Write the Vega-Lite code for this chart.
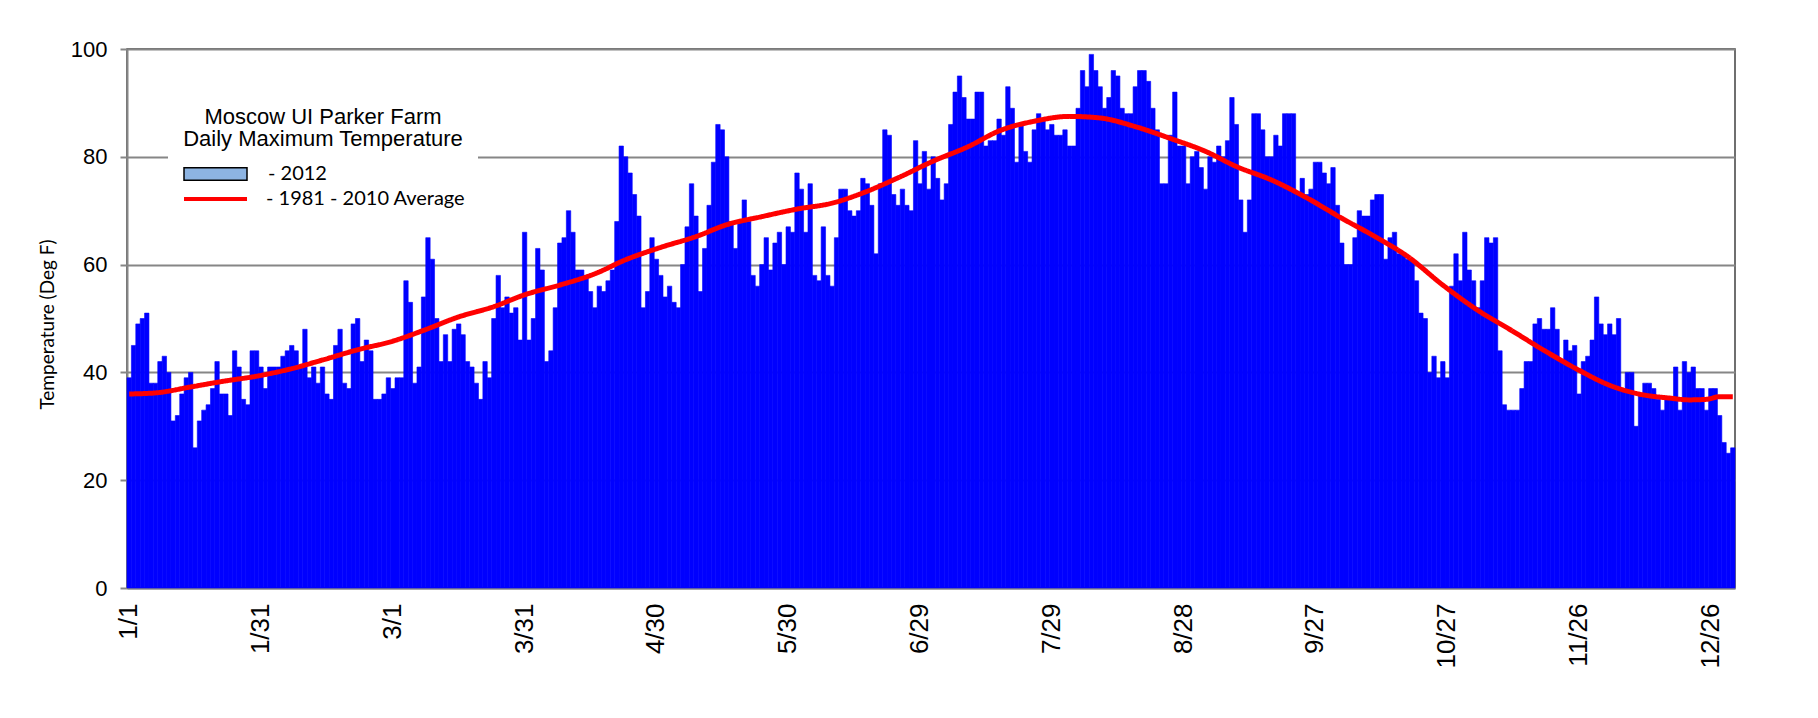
{
  "$schema": "https://vega.github.io/schema/vega-lite/v6.json",
  "width": 1608,
  "height": 539,
  "autosize": "none",
  "padding": {"left": 127, "top": 49, "right": 83, "bottom": 130},
  "background": "white",
  "config": {
    "view": {"stroke": "#404040", "strokeWidth": 1.5},
    "font": "Liberation Sans"
  },
  "datasets": {
    "daily": [
      {"d":"1/1","t":39},{"d":"1/2","t":45},{"d":"1/3","t":49},{"d":"1/4","t":50},{"d":"1/5","t":51},{"d":"1/6","t":38},{"d":"1/7","t":38},{"d":"1/8","t":42},{"d":"1/9","t":43},{"d":"1/10","t":40},
      {"d":"1/11","t":31},{"d":"1/12","t":32},{"d":"1/13","t":36},{"d":"1/14","t":39},{"d":"1/15","t":40},{"d":"1/16","t":26},{"d":"1/17","t":31},{"d":"1/18","t":33},{"d":"1/19","t":34},{"d":"1/20","t":37},
      {"d":"1/21","t":42},{"d":"1/22","t":36},{"d":"1/23","t":36},{"d":"1/24","t":32},{"d":"1/25","t":44},{"d":"1/26","t":41},{"d":"1/27","t":35},{"d":"1/28","t":34},{"d":"1/29","t":44},{"d":"1/30","t":44},
      {"d":"1/31","t":41},
      {"d":"2/1","t":37},{"d":"2/2","t":41},{"d":"2/3","t":41},{"d":"2/4","t":41},{"d":"2/5","t":43},{"d":"2/6","t":44},{"d":"2/7","t":45},{"d":"2/8","t":44},{"d":"2/9","t":41},{"d":"2/10","t":48},
      {"d":"2/11","t":39},{"d":"2/12","t":41},{"d":"2/13","t":38},{"d":"2/14","t":41},{"d":"2/15","t":36},{"d":"2/16","t":35},{"d":"2/17","t":45},{"d":"2/18","t":48},{"d":"2/19","t":38},{"d":"2/20","t":37},
      {"d":"2/21","t":49},{"d":"2/22","t":50},{"d":"2/23","t":42},{"d":"2/24","t":46},{"d":"2/25","t":44},{"d":"2/26","t":35},{"d":"2/27","t":35},{"d":"2/28","t":36},{"d":"2/29","t":39},
      {"d":"3/1","t":37},{"d":"3/2","t":39},{"d":"3/3","t":39},{"d":"3/4","t":57},{"d":"3/5","t":53},{"d":"3/6","t":38},{"d":"3/7","t":41},{"d":"3/8","t":54},{"d":"3/9","t":65},{"d":"3/10","t":61},
      {"d":"3/11","t":50},{"d":"3/12","t":42},{"d":"3/13","t":47},{"d":"3/14","t":42},{"d":"3/15","t":48},{"d":"3/16","t":49},{"d":"3/17","t":47},{"d":"3/18","t":42},{"d":"3/19","t":41},{"d":"3/20","t":38},
      {"d":"3/21","t":35},{"d":"3/22","t":42},{"d":"3/23","t":39},{"d":"3/24","t":50},{"d":"3/25","t":58},{"d":"3/26","t":52},{"d":"3/27","t":54},{"d":"3/28","t":51},{"d":"3/29","t":52},{"d":"3/30","t":46},
      {"d":"3/31","t":66},
      {"d":"4/1","t":46},{"d":"4/2","t":50},{"d":"4/3","t":63},{"d":"4/4","t":59},{"d":"4/5","t":42},{"d":"4/6","t":44},{"d":"4/7","t":52},{"d":"4/8","t":64},{"d":"4/9","t":65},{"d":"4/10","t":70},
      {"d":"4/11","t":66},{"d":"4/12","t":59},{"d":"4/13","t":59},{"d":"4/14","t":58},{"d":"4/15","t":55},{"d":"4/16","t":52},{"d":"4/17","t":56},{"d":"4/18","t":55},{"d":"4/19","t":57},{"d":"4/20","t":59},
      {"d":"4/21","t":68},{"d":"4/22","t":82},{"d":"4/23","t":80},{"d":"4/24","t":77},{"d":"4/25","t":73},{"d":"4/26","t":69},{"d":"4/27","t":52},{"d":"4/28","t":55},{"d":"4/29","t":65},{"d":"4/30","t":61},
      {"d":"5/1","t":58},{"d":"5/2","t":54},{"d":"5/3","t":56},{"d":"5/4","t":53},{"d":"5/5","t":52},{"d":"5/6","t":60},{"d":"5/7","t":67},{"d":"5/8","t":75},{"d":"5/9","t":69},{"d":"5/10","t":55},
      {"d":"5/11","t":63},{"d":"5/12","t":71},{"d":"5/13","t":79},{"d":"5/14","t":86},{"d":"5/15","t":85},{"d":"5/16","t":80},{"d":"5/17","t":68},{"d":"5/18","t":63},{"d":"5/19","t":68},{"d":"5/20","t":72},
      {"d":"5/21","t":68},{"d":"5/22","t":58},{"d":"5/23","t":56},{"d":"5/24","t":60},{"d":"5/25","t":65},{"d":"5/26","t":59},{"d":"5/27","t":64},{"d":"5/28","t":66},{"d":"5/29","t":60},{"d":"5/30","t":67},
      {"d":"5/31","t":66},
      {"d":"6/1","t":77},{"d":"6/2","t":74},{"d":"6/3","t":66},{"d":"6/4","t":75},{"d":"6/5","t":58},{"d":"6/6","t":57},{"d":"6/7","t":67},{"d":"6/8","t":58},{"d":"6/9","t":56},{"d":"6/10","t":65},
      {"d":"6/11","t":74},{"d":"6/12","t":74},{"d":"6/13","t":70},{"d":"6/14","t":69},{"d":"6/15","t":70},{"d":"6/16","t":76},{"d":"6/17","t":75},{"d":"6/18","t":71},{"d":"6/19","t":62},{"d":"6/20","t":75},
      {"d":"6/21","t":85},{"d":"6/22","t":84},{"d":"6/23","t":73},{"d":"6/24","t":71},{"d":"6/25","t":74},{"d":"6/26","t":71},{"d":"6/27","t":70},{"d":"6/28","t":83},{"d":"6/29","t":75},{"d":"6/30","t":81},
      {"d":"7/1","t":74},{"d":"7/2","t":80},{"d":"7/3","t":76},{"d":"7/4","t":72},{"d":"7/5","t":75},{"d":"7/6","t":86},{"d":"7/7","t":92},{"d":"7/8","t":95},{"d":"7/9","t":91},{"d":"7/10","t":87},
      {"d":"7/11","t":87},{"d":"7/12","t":92},{"d":"7/13","t":92},{"d":"7/14","t":82},{"d":"7/15","t":83},{"d":"7/16","t":83},{"d":"7/17","t":87},{"d":"7/18","t":84},{"d":"7/19","t":93},{"d":"7/20","t":89},
      {"d":"7/21","t":79},{"d":"7/22","t":86},{"d":"7/23","t":81},{"d":"7/24","t":79},{"d":"7/25","t":85},{"d":"7/26","t":88},{"d":"7/27","t":87},{"d":"7/28","t":85},{"d":"7/29","t":86},{"d":"7/30","t":84},
      {"d":"7/31","t":84},
      {"d":"8/1","t":85},{"d":"8/2","t":82},{"d":"8/3","t":82},{"d":"8/4","t":89},{"d":"8/5","t":96},{"d":"8/6","t":93},{"d":"8/7","t":99},{"d":"8/8","t":96},{"d":"8/9","t":93},{"d":"8/10","t":89},
      {"d":"8/11","t":91},{"d":"8/12","t":96},{"d":"8/13","t":95},{"d":"8/14","t":89},{"d":"8/15","t":88},{"d":"8/16","t":88},{"d":"8/17","t":93},{"d":"8/18","t":96},{"d":"8/19","t":96},{"d":"8/20","t":94},
      {"d":"8/21","t":89},{"d":"8/22","t":85},{"d":"8/23","t":75},{"d":"8/24","t":75},{"d":"8/25","t":84},{"d":"8/26","t":92},{"d":"8/27","t":82},{"d":"8/28","t":82},{"d":"8/29","t":75},{"d":"8/30","t":80},
      {"d":"8/31","t":81},
      {"d":"9/1","t":78},{"d":"9/2","t":74},{"d":"9/3","t":80},{"d":"9/4","t":79},{"d":"9/5","t":82},{"d":"9/6","t":80},{"d":"9/7","t":83},{"d":"9/8","t":91},{"d":"9/9","t":86},{"d":"9/10","t":72},
      {"d":"9/11","t":66},{"d":"9/12","t":72},{"d":"9/13","t":88},{"d":"9/14","t":88},{"d":"9/15","t":85},{"d":"9/16","t":80},{"d":"9/17","t":80},{"d":"9/18","t":84},{"d":"9/19","t":82},{"d":"9/20","t":88},
      {"d":"9/21","t":88},{"d":"9/22","t":88},{"d":"9/23","t":73},{"d":"9/24","t":76},{"d":"9/25","t":73},{"d":"9/26","t":74},{"d":"9/27","t":79},{"d":"9/28","t":79},{"d":"9/29","t":77},{"d":"9/30","t":75},
      {"d":"10/1","t":78},{"d":"10/2","t":71},{"d":"10/3","t":64},{"d":"10/4","t":60},{"d":"10/5","t":60},{"d":"10/6","t":65},{"d":"10/7","t":70},{"d":"10/8","t":69},{"d":"10/9","t":69},{"d":"10/10","t":72},
      {"d":"10/11","t":73},{"d":"10/12","t":73},{"d":"10/13","t":61},{"d":"10/14","t":65},{"d":"10/15","t":66},{"d":"10/16","t":62},{"d":"10/17","t":62},{"d":"10/18","t":61},{"d":"10/19","t":61},{"d":"10/20","t":57},
      {"d":"10/21","t":51},{"d":"10/22","t":50},{"d":"10/23","t":40},{"d":"10/24","t":43},{"d":"10/25","t":39},{"d":"10/26","t":42},{"d":"10/27","t":39},{"d":"10/28","t":56},{"d":"10/29","t":62},{"d":"10/30","t":57},
      {"d":"10/31","t":66},
      {"d":"11/1","t":59},{"d":"11/2","t":57},{"d":"11/3","t":52},{"d":"11/4","t":57},{"d":"11/5","t":65},{"d":"11/6","t":64},{"d":"11/7","t":65},{"d":"11/8","t":44},{"d":"11/9","t":34},{"d":"11/10","t":33},
      {"d":"11/11","t":33},{"d":"11/12","t":33},{"d":"11/13","t":37},{"d":"11/14","t":42},{"d":"11/15","t":42},{"d":"11/16","t":49},{"d":"11/17","t":50},{"d":"11/18","t":48},{"d":"11/19","t":48},{"d":"11/20","t":52},
      {"d":"11/21","t":48},{"d":"11/22","t":42},{"d":"11/23","t":46},{"d":"11/24","t":44},{"d":"11/25","t":45},{"d":"11/26","t":36},{"d":"11/27","t":42},{"d":"11/28","t":43},{"d":"11/29","t":46},{"d":"11/30","t":54},
      {"d":"12/1","t":49},{"d":"12/2","t":47},{"d":"12/3","t":49},{"d":"12/4","t":47},{"d":"12/5","t":50},{"d":"12/6","t":37},{"d":"12/7","t":40},{"d":"12/8","t":40},{"d":"12/9","t":30},{"d":"12/10","t":36},
      {"d":"12/11","t":38},{"d":"12/12","t":38},{"d":"12/13","t":37},{"d":"12/14","t":35},{"d":"12/15","t":33},{"d":"12/16","t":35},{"d":"12/17","t":35},{"d":"12/18","t":41},{"d":"12/19","t":33},{"d":"12/20","t":42},
      {"d":"12/21","t":40},{"d":"12/22","t":41},{"d":"12/23","t":37},{"d":"12/24","t":37},{"d":"12/25","t":33},{"d":"12/26","t":37},{"d":"12/27","t":37},{"d":"12/28","t":32},{"d":"12/29","t":27},{"d":"12/30","t":25},
      {"d":"12/31","t":26}
    ],
    "normal": [
      {"d":"1/1","avg":36.0},{"d":"1/7","avg":36.2},{"d":"1/15","avg":37.3},{"d":"1/22","avg":38.3},{"d":"1/30","avg":39.3},
      {"d":"2/7","avg":40.7},{"d":"2/14","avg":42.3},{"d":"2/22","avg":44.2},{"d":"3/1","avg":45.8},{"d":"3/8","avg":47.8},
      {"d":"3/16","avg":50.3},{"d":"3/24","avg":52.2},{"d":"3/31","avg":54.4},{"d":"4/8","avg":56.2},{"d":"4/16","avg":58.3},
      {"d":"4/23","avg":60.9},{"d":"5/1","avg":63.2},{"d":"5/9","avg":65.2},{"d":"5/16","avg":67.4},{"d":"5/24","avg":68.9},
      {"d":"6/1","avg":70.3},{"d":"6/9","avg":71.4},{"d":"6/16","avg":73.3},{"d":"6/24","avg":76.1},{"d":"7/2","avg":79.2},
      {"d":"7/10","avg":81.9},{"d":"7/17","avg":84.8},{"d":"7/25","avg":86.6},{"d":"8/2","avg":87.5},{"d":"8/9","avg":87.2},
      {"d":"8/17","avg":85.6},{"d":"8/25","avg":83.4},{"d":"9/2","avg":81.0},{"d":"9/9","avg":78.2},{"d":"9/17","avg":75.7},
      {"d":"9/25","avg":72.4},{"d":"10/3","avg":68.6},{"d":"10/11","avg":65.0},{"d":"10/18","avg":61.5},{"d":"10/26","avg":56.2},
      {"d":"11/3","avg":51.5},{"d":"11/11","avg":47.6},{"d":"11/18","avg":44.1},{"d":"11/26","avg":40.4},{"d":"12/3","avg":37.6},
      {"d":"12/9","avg":36.1},{"d":"12/17","avg":35.2},{"d":"12/21","avg":34.9},{"d":"12/25","avg":35.0},{"d":"12/28","avg":35.5},
      {"d":"12/31","avg":35.5}
    ]
  },
  "layer": [
    {
      "data": {"name": "daily"},
      "mark": {"type": "bar", "strokeWidth": 0.6},
      "encoding": {
        "x": {
          "field": "d",
          "type": "ordinal",
          "sort": null,
          "scale": {"paddingInner": 0, "paddingOuter": 0},
          "axis": {
            "labelExpr": "indexof(['1/1','1/31','3/1','3/31','4/30','5/30','6/29','7/29','8/28','9/27','10/27','11/26','12/26'], datum.value) >= 0 ? datum.value : ''",
            "labelAngle": 270,
            "labelAlign": "right",
            "labelBaseline": "middle",
            "labelFontSize": 26,
            "labelColor": "black",
            "labelPadding": 15,
            "labelOverlap": false,
            "labelFlush": false,
            "ticks": false,
            "domainColor": "#868686",
            "domainWidth": 2,
            "title": null
          }
        },
        "y": {
          "field": "t",
          "type": "quantitative",
          "scale": {"domain": [0, 100], "nice": false},
          "axis": {
            "values": [0,20,40,60,80,100],
            "grid": true,
            "gridColor": "#868686",
            "gridWidth": 2,
            "tickColor": "#868686",
            "tickWidth": 2,
            "tickSize": 7,
            "domainColor": "#868686",
            "domainWidth": 2,
            "labelFontSize": 22,
            "labelColor": "black",
            "labelPadding": 13,
            "title": "Temperature (Deg F)",
            "titleFont": "Lato",
            "titleFontSize": 19,
            "titleFontWeight": "normal",
            "titleColor": "black",
            "titleX": -80,
            "titleY": 275,
            "titleBaseline": "middle",
            "titleAlign": "center"
          }
        },
        "fill": {"field": "t", "type": "quantitative", "scale": {"range": ["#0000FF", "#0000FF"]}, "legend": null},
        "stroke": {"field": "t", "type": "quantitative", "scale": {"range": ["#0000FF", "#0000FF"]}, "legend": null},
        "opacity": {
          "datum": "- 2012",
          "type": "nominal",
          "scale": {"range": [1]},
          "legend": {
            "orient": "none",
            "legendX": 41,
            "legendY": 103,
            "zindex": 2,
            "title": null,
            "labelFont": "Lato",
            "labelFontSize": 20,
            "labelColor": "black",
            "labelLimit": 2000,
            "labelOffset": 68,
            "symbolType": "M-1,-1.05H9.5V1.05H-1Z",
            "symbolSize": 144,
            "symbolFillColor": "#8DB4E2",
            "symbolStrokeColor": "#000000",
            "symbolStrokeWidth": 1.5,
            "symbolOpacity": 1,
            "padding": 12
          }
        }
      }
    },
    {
      "data": {"name": "normal"},
      "mark": {"type": "line", "color": "#FF0000", "strokeWidth": 5, "interpolate": "monotone"},
      "encoding": {
        "x": {"field": "d", "type": "ordinal", "sort": null},
        "y": {"field": "avg", "type": "quantitative"},
        "strokeDash": {
          "datum": "- 1981 - 2010 Average",
          "type": "nominal",
          "scale": {"range": [[1, 0]]},
          "legend": {
            "orient": "none",
            "legendX": 41,
            "legendY": 46,
            "zindex": 1,
            "title": ["Moscow UI Parker Farm", "Daily Maximum Temperature"],
            "titleFont": "Liberation Sans",
            "titleFontSize": 22,
            "titleFontWeight": "normal",
            "titleColor": "black",
            "titleAnchor": "middle",
            "titleAlign": "center",
            "titleLineHeight": 22,
            "titlePadding": 38,
            "titleLimit": 2000,
            "labelFont": "Lato",
            "labelFontSize": 20,
            "labelColor": "black",
            "labelLimit": 2000,
            "labelOffset": 66,
            "symbolType": "M-1,0H9.5",
            "symbolSize": 144,
            "symbolStrokeColor": "#FF0000",
            "symbolStrokeWidth": 4,
            "fillColor": "white",
            "padding": 12
          }
        }
      }
    }
  ]
}
